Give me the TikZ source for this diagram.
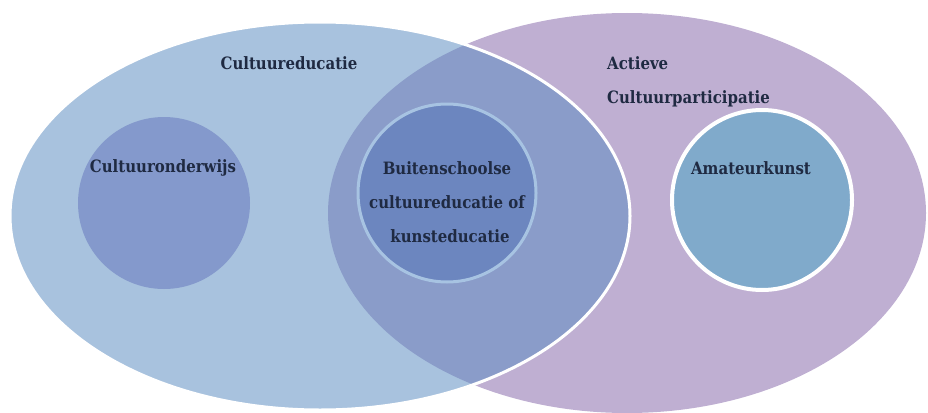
\documentclass[tikz,border=0pt]{standalone}
\usepackage{fontspec}
\setmainfont{DejaVu Serif}
\newfontfamily\lblfont{DejaVu Serif}[BoldFeatures={FakeStretch=0.88}]
\definecolor{lblue}{HTML}{A8C2DE}
\definecolor{purp}{HTML}{BFAFD2}
\definecolor{ovl}{HTML}{8A9CC9}
\definecolor{conder}{HTML}{8499CC}
\definecolor{cbuiten}{HTML}{6C86BF}
\definecolor{bbuiten}{HTML}{A7C3E2}
\definecolor{camat}{HTML}{80AACB}
\definecolor{txt}{HTML}{1F2A42}
\begin{document}
\begin{tikzpicture}[x=1pt,y=-1pt,
  lbl/.style={font=\lblfont\bfseries\fontsize{17}{34}\selectfont, text=txt, inner sep=0pt},
  disc/.style={circle, inner sep=0pt}]
\useasboundingbox (0,0) rectangle (928,412);
\clip (0,0) rectangle (928,412);
% large sets
\fill[purp] (627,213) ellipse [x radius=299pt, y radius=200pt];
\fill[lblue] (320,216) ellipse [x radius=310pt, y radius=194pt];
\begin{scope}
  \clip (627,213) ellipse [x radius=299pt, y radius=200pt];
  \fill[ovl] (320,216) ellipse [x radius=310pt, y radius=194pt];
\end{scope}
\draw[white, line width=3pt] (320,216) ellipse [x radius=310pt, y radius=194pt];
% inner circles
\node[disc, fill=conder, minimum size=172pt] (onderwijs) at (164,203) {};
\node[disc, fill=cbuiten, draw=bbuiten, line width=3pt, minimum size=178pt] (buiten) at (447,193) {};
\node[disc, fill=camat, draw=white, line width=4pt, minimum size=180pt] (amateur) at (762,200) {};
% labels
\node[lbl] (tce) at (289,63) {Cultuureducatie};
\node[lbl, anchor=west] (tact) at (607,63) {Actieve};
\node[lbl, anchor=west] (tcp) at (607,99) {Cultuurparticipatie};
\node[lbl] (tond) at (163,168) {Cultuuronderwijs};
\node[lbl, align=center] (tbui) at (447,202) {Buitenschoolse\\cultuureducatie of\\\hspace*{6pt}kunsteducatie};
\node[lbl] (tam) at (751,168) {Amateurkunst};
\end{tikzpicture}
\end{document}
